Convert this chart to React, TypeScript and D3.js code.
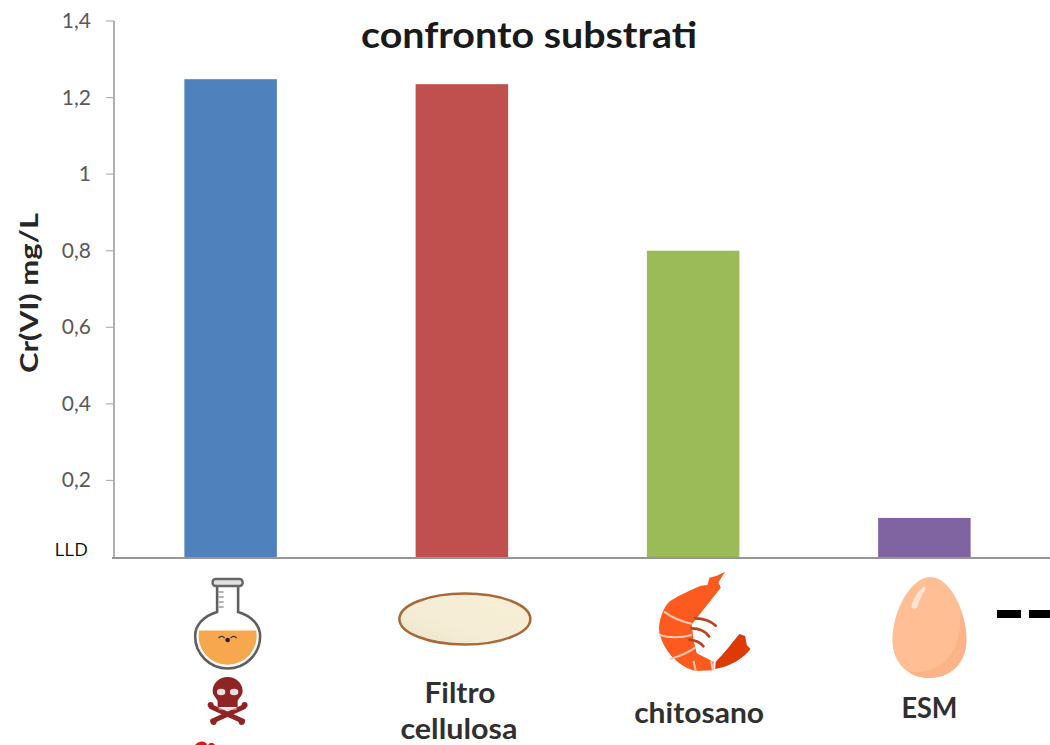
import React from "react";
import * as d3 from "d3";

const categories = ["flask", "filtro", "chitosano", "esm"];
const values = [1.248, 1.235, 0.8, 0.102];
const barColors = ["#4f81bd", "#c0504d", "#9bbb59", "#8064a2"];
const yTicks = [0.2, 0.4, 0.6, 0.8, 1, 1.2, 1.4];

const WIDTH = 1050;
const HEIGHT = 745;
const FONT = "Lato, 'Open Sans', sans-serif";

const x = d3.scaleBand<string>().domain(categories).range([115, 1040]).paddingInner(0.6).paddingOuter(0.3);
const y = d3.scaleLinear().domain([0, 1.4]).range([557, 21]);
const formatTick = (v: number) => String(v).replace(".", ",");

function center(cat: string) {
  return (x(cat) as number) + x.bandwidth() / 2;
}

function Flask({ cx }: { cx: number }) {
  return (
    <g transform={`translate(${cx},0)`}>
      <path d="M-10.5,586 V612 C-24,616 -32.5,625 -32.5,636 A32.5,32.5 0 0,0 32.5,636 C32.5,625 24,616 10.5,612 V586" fill="#fff" stroke="#5f5f5f" strokeWidth={2.6} />
      <rect x={-15} y={579} width={30} height={7} rx={3} fill="#e2e2e2" stroke="#666" strokeWidth={2.4} />
      <path d="M-9,592 h5 M-9,597 h5 M-9,602 h5 M-9,607 h5" stroke="#999" strokeWidth={1.3} />
      <path d="M-28.5,630.5 L28.5,630.5 A29,29 0 1,1 -28.5,630.5 Z" fill="#f7a84f" />
      <circle cx={0} cy={640} r={2.3} fill="#222" />
      <path d="M-9,638 Q-6,635 -3,638 M9,638 Q6,635 3,638" fill="none" stroke="#333" strokeWidth={1.2} />
    </g>
  );
}

function Skull({ cx }: { cx: number }) {
  const color = "#8f2424";
  return (
    <g transform={`translate(${cx},0)`} fill={color}>
      <path d="M-16,707 L15,721 M16,707 L-15,721" stroke={color} strokeWidth={5} strokeLinecap="round" />
      <circle cx={-17} cy={705} r={3} />
      <circle cx={17} cy={705} r={3} />
      <circle cx={-14} cy={722} r={3} />
      <circle cx={14} cy={722} r={3} />
      <path d="M-15,691 C-15,683 -8,677 0,677 C8,677 15,683 15,691 C15,696 11,698 10,701 V707 H-10 V701 C-11,698 -15,696 -15,691 Z" />
      <ellipse cx={-6.5} cy={692} rx={4.2} ry={3.2} fill="#f3dede" />
      <ellipse cx={6.5} cy={692} rx={4.2} ry={3.2} fill="#f3dede" />
      <path d="M-9,709 H9" stroke="#e9c9c9" strokeWidth={1.2} />
    </g>
  );
}

function Filter({ cx }: { cx: number }) {
  return (
    <g>
      <defs>
        <linearGradient id="filterFill" x1="0" y1="1" x2="1" y2="0">
          <stop offset="0" stopColor="#ebe3c6" />
          <stop offset="0.4" stopColor="#f5edd6" />
          <stop offset="1" stopColor="#f8eed4" />
        </linearGradient>
      </defs>
      <ellipse cx={cx} cy={619} rx={65.5} ry={25.5} fill="url(#filterFill)" stroke="#a9683a" strokeWidth={2.5} />
    </g>
  );
}

// Laid out around the band centre; one path unit is a third of a pixel.
function Shrimp({ cx }: { cx: number }) {
  return (
    <g transform={`translate(${cx - 43},565) scale(0.3333)`}>
      <path
        d="M225,20 L205,52 L212,68 L175,115 L135,165 L125,178 L130,225 L140,265 L190,290 L190,316 L135,318 C90,305 45,268 28,205 C22,170 40,125 60,108 C90,88 130,72 152,62 L172,60 L178,38 L200,32 Z"
        fill="#fc5a1f"
      />
      <path d="M195,312 L197,290 C225,262 250,228 268,207 L285,213 L290,240 L301,252 C280,280 240,305 195,312 Z" fill="#dd3a06" />
      <path d="M42,140 C65,158 95,170 125,176 M28,210 C60,220 95,218 125,210 M60,282 C90,274 115,262 135,248 M130,288 L137,318 M183,286 L188,316" fill="none" stroke="#ffc9b0" strokeWidth={6} />
      <path d="M135,160 C160,160 182,168 197,182 M125,190 C145,190 165,198 177,214 M118,224 C135,226 150,232 160,244" fill="none" stroke="#b8431c" strokeWidth={8} strokeLinecap="round" />
    </g>
  );
}

function Egg({ cx }: { cx: number }) {
  return (
    <g transform={`translate(${cx},0)`}>
      <path d="M1,577 C20,577 37,610 37,640 C37,664 20,678 0,678 C-20,678 -37,664 -37,640 C-37,610 -18,577 1,577 Z" fill="#ffbe94" />
      <path d="M31,612 C36,622 37,632 37,640 C37,664 20,678 0,678 C-8,678 -16,676 -22,671 C5,676 33,660 31,612 Z" fill="#fdb388" />
      <path d="M-18,606 C-16,598 -11,591 -6,587 C-4,586 -3,588 -4,590 C-8,595 -10,601 -12,607 C-14,610 -18,609 -18,606 Z" fill="#ffe2cf" />
    </g>
  );
}

const iconLabels = [
  { text: "Filtro", cat: "filtro", dx: -2, y: 703, width: 71 },
  { text: "cellulosa", cat: "filtro", dx: -3, y: 739, width: 117 },
  { text: "chitosano", cat: "chitosano", dx: 6, y: 723, width: 130 },
  { text: "ESM", cat: "esm", dx: 5, y: 718, width: 56 },
];

export default function App() {
  return (
    <svg
      width={WIDTH}
      height={HEIGHT}
      viewBox={`0 0 ${WIDTH} ${HEIGHT}`}
      style={{ position: "absolute", left: 0, top: 0, background: "#fff" }}
      fontFamily={FONT}
    >
      {categories.map((c, i) => (
        <rect key={c} x={x(c)} y={y(values[i])} width={x.bandwidth()} height={y(0) - y(values[i])} fill={barColors[i]} />
      ))}

      <line x1={114} x2={114} y1={y(1.4)} y2={y(0)} stroke="#b0b0b0" strokeWidth={2} />
      <line x1={112} x2={WIDTH} y1={y(0) + 1} y2={y(0) + 1} stroke="#969696" strokeWidth={2} />
      {yTicks.map((t) => (
        <g key={t}>
          <line x1={106} x2={114} y1={y(t)} y2={y(t)} stroke="#b0b0b0" strokeWidth={1.2} />
          <text x={91} y={y(t) + 7} textAnchor="end" fontSize={21} fill="#595959">
            {formatTick(t)}
          </text>
        </g>
      ))}
      <text x={88} y={556} textAnchor="end" fontSize={19} fontFamily="'Open Sans', sans-serif" fill="#111">
        LLD
      </text>

      <text x={529} y={48} textAnchor="middle" fontSize={36} fontWeight={700} fill="#1a1a1a" textLength={336} lengthAdjust="spacingAndGlyphs">
        confronto substrati
      </text>
      <text
        transform="translate(38,293) rotate(-90)"
        textAnchor="middle"
        fontSize={25}
        fontWeight={700}
        fill="#262626"
        textLength={160}
        lengthAdjust="spacingAndGlyphs"
      >
        Cr(VI) mg/L
      </text>

      <Flask cx={center("flask") - 3} />
      <Skull cx={center("flask") - 3} />
      <path d="M195,745 Q197,742 201,741.5 Q206,741 207,745 Z M208,745 Q210,742 213,743 L215,745 Z" fill="#f01010" />
      <Filter cx={center("filtro") + 3} />
      <Shrimp cx={center("chitosano")} />
      <Egg cx={center("esm") + 5} />

      {iconLabels.map((l) => (
        <text
          key={l.text}
          x={center(l.cat) + l.dx}
          y={l.y}
          textAnchor="middle"
          fontSize={28}
          fontWeight={700}
          fill="#303030"
          textLength={l.width}
          lengthAdjust="spacingAndGlyphs"
        >
          {l.text}
        </text>
      ))}

      <rect x={997} y={610} width={24} height={8} fill="#000" />
      <rect x={1029} y={610} width={21} height={8} fill="#000" />
    </svg>
  );
}
